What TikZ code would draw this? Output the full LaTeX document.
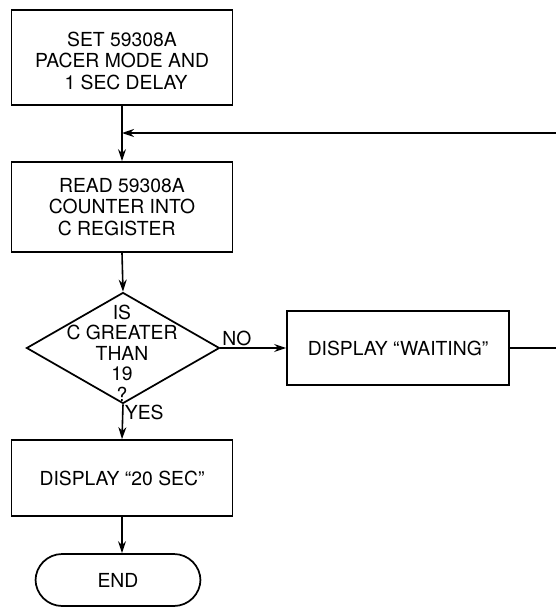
\documentclass[tikz,border=0pt]{standalone}
\usepackage{fontspec}
\setmainfont{TeX Gyre Heros}
\usetikzlibrary{shapes.geometric,arrows.meta}
\begin{document}
\begin{tikzpicture}[x=0.75pt,y=-0.75pt,
  every node/.style={font=\fontsize{14.5}{16}\selectfont},
  box/.style={draw,line width=1.3pt,rectangle,inner sep=0pt,align=center,minimum width=221*0.75pt},
  arr/.style={line width=1.2pt,-{Stealth[length=9pt,width=6pt]}},
  ln/.style={line width=1.2pt},
  lbl/.style={inner sep=1pt}]
\useasboundingbox (0,0) rectangle (556,607);
\node[box,minimum height=95*0.75pt] (b1) at (122,57.5) {\rule{0pt}{16pt}SET 59308A\\PACER MODE AND\\\hspace*{6pt}1 SEC DELAY};
\node[box,minimum height=90*0.75pt] (b2) at (122,207) {READ 59308A\\COUNTER INTO\\C REGISTER\hspace*{8pt}};
\node[draw,line width=1.3pt,diamond,inner sep=0pt,minimum width=193*0.75pt,minimum height=111*0.75pt] (dec) at (123,348) {};
\node[align=center,font=\fontsize{14.5}{15.3}\selectfont] (dect) at (122,353) {IS\\C GREATER\\THAN\\19\\?};
\node[box,minimum width=222*0.75pt,minimum height=74*0.75pt] (b3) at (398,348) {DISPLAY ``WAITING''};
\node[box,minimum height=76*0.75pt] (b4) at (122,478) {DISPLAY ``20 SEC''};
\node[draw,line width=1.3pt,rectangle,rounded corners=20pt,minimum width=165*0.75pt,minimum height=52*0.75pt] (e) at (118,580) {END};
\coordinate (j) at (122,133);
\coordinate (r1) at (556,133);
\coordinate (r2) at (556,348);
\draw[arr] (b1.south) -- (b2.north);
\draw[arr] (r1) -- (j);
\draw[arr] (b2.south) -- (dec.north);
\draw[arr] (dec.east) -- node[lbl,pos=0.25,above] {NO} (b3.west);
\draw[ln] (b3.east) -- (r2);
\draw[arr] (dec.south) -- node[lbl,pos=0.22,right] {YES} (b4.north);
\draw[arr] (b4.south) -- (e.north -| b4.south);
\end{tikzpicture}
\end{document}
